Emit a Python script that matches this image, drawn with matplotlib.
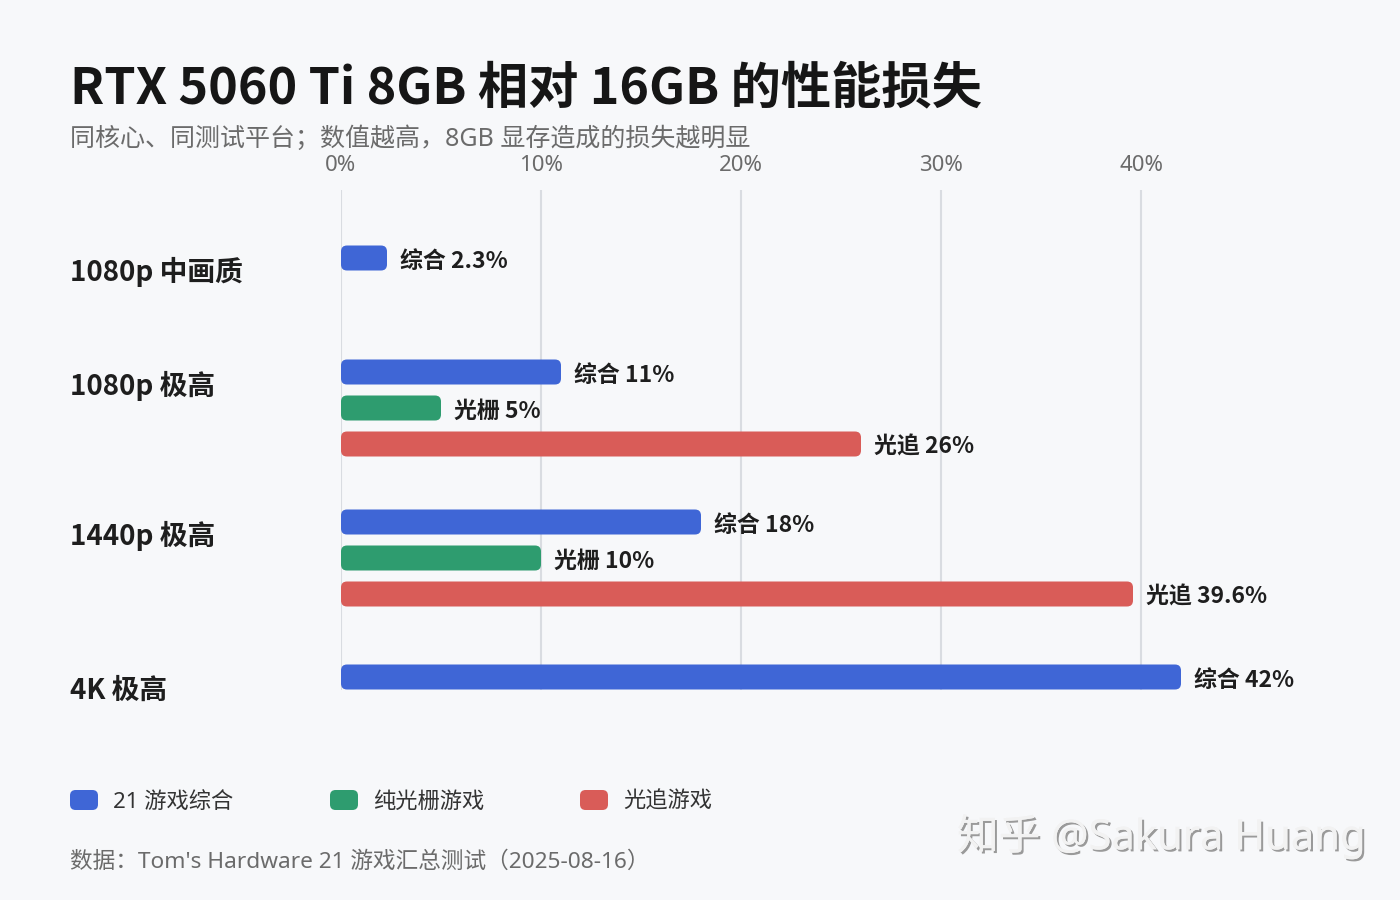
import matplotlib
matplotlib.use("Agg")
import matplotlib.pyplot as plt
from matplotlib.patches import FancyBboxPatch
import matplotlib.patheffects as pe

plt.rcParams['font.family'] = ['Noto Sans', 'Noto Sans CJK SC', 'DejaVu Sans']
BOLD_FAMILY = ['Noto Sans CJK SC', 'DejaVu Sans']

# data
groups = ['1080p 中画质', '1080p 极高', '1440p 极高', '4K 极高']
combined = [2.3, 11, 18, 42]
raster = [None, 5, 10, None]
raytrace = [None, 26, 39.6, None]
short_names = ['综合', '光栅', '光追']
legend_names = ['21 游戏综合', '纯光栅游戏', '光追游戏']
ticks = [0, 10, 20, 30, 40]

colors = ['#3f66d6', '#2e9c6f', '#d95c58']
bg = '#f7f8fa'

W, H = 1400, 900
fig = plt.figure(figsize=(14, 9), dpi=100, facecolor=bg)

# axes placed in pixel layout: x 341..1341, y 190..690
ax_left, ax_right, ax_top, ax_bot = 341, 1341, 190, 690
ax = fig.add_axes([ax_left / W, 1 - ax_bot / H, (ax_right - ax_left) / W, (ax_bot - ax_top) / H])
ax.set_facecolor(bg)
ax.set_xlim(0, 50)
ax.set_ylim(ax_bot, ax_top)   # y in pixel rows, top to bottom
px_per_unit = (ax_right - ax_left) / 50.0

ax.xaxis.tick_top()
ax.set_xticks(ticks)
ax.set_xticklabels([f'{t}%' for t in ticks])
ax.tick_params(axis='x', length=0, pad=10, labelsize=16, labelcolor='#6b6b6b')
ax.set_yticks([])
for s in ax.spines.values():
    s.set_visible(False)
for t in ticks:
    ax.axvline(t, color='#d9dce1', lw=1.5, zorder=0)

# layout of groups (pixel rows)
group_start = [258, 372, 522, 677]
row_step = 36
bar_h = 25
radius_px = 6

series = [combined, raster, raytrace]
for gi, g in enumerate(groups):
    row = 0
    for si, vals in enumerate(series):
        v = vals[gi]
        if v is None:
            continue
        yc = group_start[gi] + row * row_step
        r = radius_px / px_per_unit
        box = FancyBboxPatch((0, yc - bar_h / 2), v, bar_h,
                             boxstyle=f"round,pad=0,rounding_size={r}",
                             mutation_aspect=px_per_unit,
                             fc=colors[si], ec='none', zorder=3)
        ax.add_patch(box)
        ax.text(v + 13 / px_per_unit, yc + 3, f'{short_names[si]} {v:g}%',
                fontsize=16.5, fontweight='bold', color='#1e1e1e', family=BOLD_FAMILY,
                va='center', ha='left', zorder=4)
        row += 1
    fig.text(70 / W, 1 - (group_start[gi] + 14) / H, g, fontsize=20,
             fontweight='bold', color='#1e1e1e', family=BOLD_FAMILY,
             va='center', ha='left')

# title and subtitle
fig.text(70 / W, 1 - 89 / H, 'RTX 5060 Ti 8GB 相对 16GB 的性能损失',
         fontsize=36.2, fontweight='bold', color='#161616', family=BOLD_FAMILY,
         va='center', ha='left')
fig.text(70 / W, 1 - 139 / H, '同核心、同测试平台；数值越高，8GB 显存造成的损失越明显',
         fontsize=18, color='#6b6b6b', va='center', ha='left')

# legend
leg_x = [70, 330, 580]
for i, name in enumerate(legend_names):
    sq = FancyBboxPatch((leg_x[i] / W, 1 - 810 / H), 28 / W, 20 / H,
                        boxstyle="round,pad=0,rounding_size=0.004",
                        mutation_aspect=W / H,
                        transform=fig.transFigure, fc=colors[i], ec='none')
    fig.add_artist(sq)
    fig.text((leg_x[i] + 43) / W, 1 - 802 / H, name, fontsize=16,
             color='#333333', va='center', ha='left')

# footer
fig.text(70 / W, 1 - 862 / H, '数据：Tom\'s Hardware 21 游戏汇总测试（2025-08-16）',
         fontsize=16.3, color='#6b6b6b', va='center', ha='left')

# watermark
fig.text(1365 / W, 1 - 837 / H, '知乎 @Sakura Huang', fontsize=30,
         color='#f2f2f2', va='center', ha='right',
         path_effects=[pe.withSimplePatchShadow(offset=(1.5, -1.5), shadow_rgbFace='#9a9a9a', alpha=1),
                       pe.Normal()])

fig.savefig('out.png', dpi=100, facecolor=bg)
